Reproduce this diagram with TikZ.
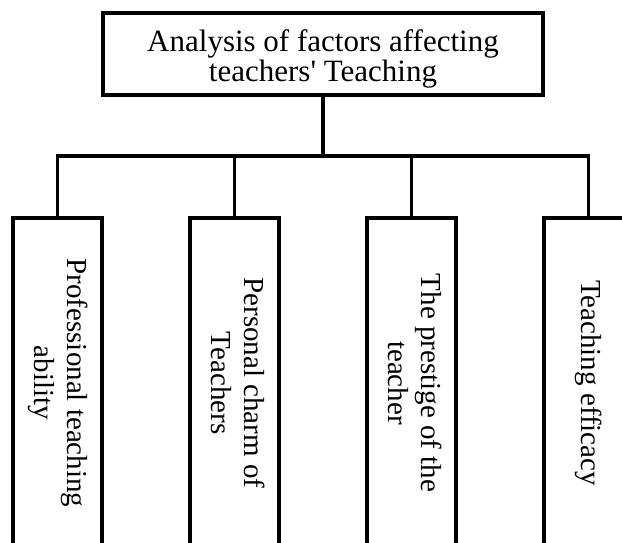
\documentclass[tikz,border=0pt]{standalone}
\usepackage{fontspec}
\setmainfont{Liberation Serif}
\usetikzlibrary{positioning}

\newcommand{\sidelabel}[1]{\rotatebox{-90}{\begin{tabular}{@{}c@{}}#1\end{tabular}}}
\newcommand{\headlabel}[1]{\raisebox{-6pt}[\height][\depth]{\begin{tabular}{@{}c@{}}#1\end{tabular}}}

\begin{document}
\begin{tikzpicture}[x=1pt, y=-1pt,
    box/.style={draw, rectangle, line width=3.2pt, inner sep=0pt, outer sep=0pt},
    head/.style={box, minimum width=440pt, minimum height=82pt,
        font=\fontsize{31}{29}\selectfont},
    factor/.style={box, minimum width=89pt, minimum height=330pt,
        font=\fontsize{29}{33}\selectfont},
    link/.style={line width=3.2pt}]
    % Frame
    \useasboundingbox (0,0) rectangle (622,542);
    \clip (0,0) rectangle (622,542);

    % Root
    \node[head] (root) at (323,54) {\headlabel{Analysis of factors affecting\\teachers\textquotesingle{} Teaching}};

    % Factors
    \node[factor] (f1) at (57.5,383) {\sidelabel{Professional teaching\\ability}};
    \node[factor, right=88pt of f1] (f2) {\sidelabel{Personal charm of\\Teachers}};
    \node[factor, right=88pt of f2] (f3) {\sidelabel{The prestige of the\\teacher}};
    \node[factor, right=88pt of f3] (f4) {\sidelabel{Teaching efficacy}};

    % Connectors
    \coordinate (bus) at (323,156);
    \draw[link] (root.south) -- (bus);
    \draw[link] (f1.north) |- (bus) -| (f4.north);
    \foreach \n in {f2,f3}
        \draw[link] (\n.north) -- (\n.north |- bus);
\end{tikzpicture}
\end{document}
